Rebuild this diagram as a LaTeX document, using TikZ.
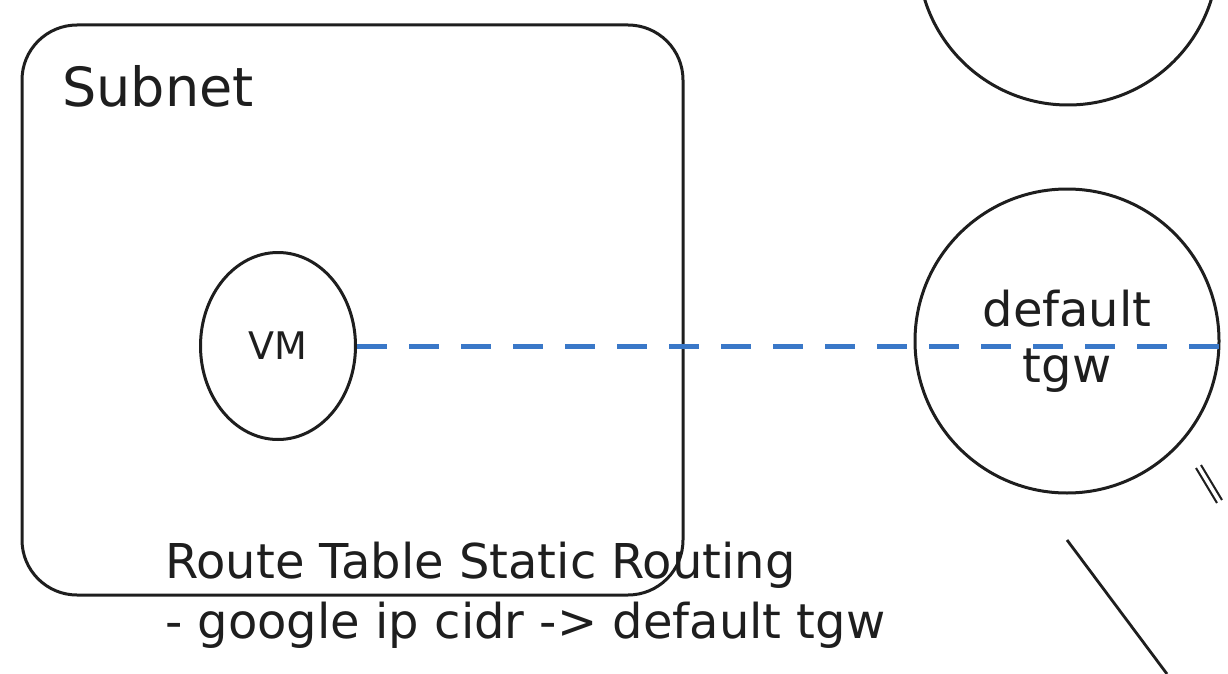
\documentclass[tikz,border=0pt]{standalone}
\usepackage{fontspec}
\setmainfont{DejaVu Sans}
\usetikzlibrary{shapes.geometric}
\definecolor{ink}{RGB}{30,30,30}
\definecolor{routeblue}{RGB}{58,120,200}

\begin{document}
\begin{tikzpicture}[x=1pt, y=-1pt,
    sketch/.style={draw=ink, line width=3pt},
    routeline/.style={draw=routeblue, line width=5pt, dash pattern=on 30pt off 22pt}]
    \useasboundingbox (0,0) rectangle (1228,674);
    \clip (0,0) rectangle (1228,674);

    % subnet box and its vm
    \node[sketch, rectangle, rounded corners=55pt, minimum width=661pt, minimum height=570pt, inner sep=0pt] (subnet) at (352.5,310) {};
    \node[anchor=base west, inner sep=0pt, text=ink, font=\fontsize{54}{60}\selectfont] (subnetlabel) at (62,107) {Subnet};
    \node[sketch, ellipse, minimum width=155pt, minimum height=187pt, inner sep=0pt, text=ink, font=\fontsize{38}{44}\selectfont] (vm) at (278,346) {VM};

    % gateways on the right
    \node[sketch, circle, minimum size=300pt, inner sep=0pt] (topgw) at (1068,-45) {};
    \node[sketch, circle, minimum size=304pt, inner sep=0pt, align=center, text=ink, font=\fontsize{48}{56}\selectfont] (tgw) at (1067,341) {default\\tgw};

    % route from the vm through the tgw
    \coordinate (routeend) at (1228,346);
    \path[routeline] (vm.east) -- (routeend);

    % route table text
    \node[anchor=base west, inner sep=0pt, text=ink, font=\fontsize{48}{60}\selectfont] (route1) at (165,578) {Route Table Static Routing};
    \node[anchor=base west, inner sep=0pt, text=ink, font=\fontsize{48}{60}\selectfont] (route2) at (165,638) {- google ip cidr -> default tgw};

    % loose strokes at the lower right
    \coordinate (lineA1) at (1067,540);
    \coordinate (lineA2) at (1167,674);
    \draw[sketch, line width=2.8pt] (lineA1) -- (lineA2);
    \coordinate (lineB1) at (1196,468);
    \coordinate (lineB2) at (1217,503);
    \coordinate (lineC1) at (1201,465);
    \coordinate (lineC2) at (1222,500);
    \draw[sketch, line width=2pt] (lineB1) -- (lineB2);
    \draw[sketch, line width=2pt] (lineC1) -- (lineC2);
\end{tikzpicture}
\end{document}
